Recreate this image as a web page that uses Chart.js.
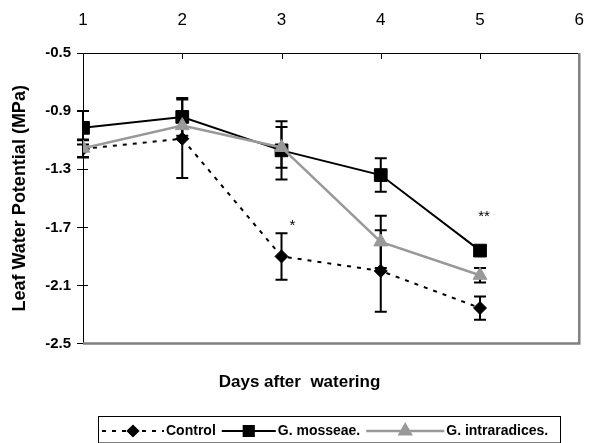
<!DOCTYPE html>
<html>
<head>
<meta charset="utf-8">
<script src="https://cdn.jsdelivr.net/npm/chart.js@4"></script>
<style>
  html, body { margin: 0; padding: 0; background: #fff; }
  #wrap { width: 606px; height: 443px; }
</style>
</head>
<body>
<div id="wrap"><canvas id="lwp"></canvas></div>
<script>
// values
const days = [1, 2, 3, 4, 5];
const xTicks = [1, 2, 3, 4, 5, 6];
const yTicks = [-2.5, -2.1, -1.7, -1.3, -0.9, -0.5];

const control     = [-1.16, -1.09, -1.90, -2.00, -2.255];
const controlErr  = [0.06, 0.27, 0.16, 0.28, 0.08];
const mosseae     = [-1.015, -0.94, -1.17, -1.34, -1.86];
const mosseaeErr  = [0.115, 0.13, 0.20, 0.115, 0.03];
const intra       = [-1.155, -1.00, -1.15, -1.80, -2.03];
const intraErr    = [0.06, 0.09, 0.14, 0.18, 0.05];

const seriesNames = ['Control', 'G. mosseae.', 'G. intraradices.'];
const errors = [controlErr, mosseaeErr, intraErr];
// significance marks: day, value, text
const sigDays = [3.11, 5.04];
const sigVals = [-1.69, -1.63];
const sigText = ['*', '**'];

const FONT = "'Liberation Sans', Arial, sans-serif";
const GRAY = '#999999';

const pts = arr => arr.map((v, i) => ({ x: days[i], y: v }));

const extras = {
  id: 'extras',
  beforeDatasetsDraw(chart) {
    const { ctx, scales: { x, y } } = chart;
    ctx.save();
    ctx.strokeStyle = '#000';
    ctx.lineWidth = 2;
    chart.data.datasets.forEach((ds, d) => {
      ds.data.forEach((p, i) => {
        const e = errors[d][i];
        const px = x.getPixelForValue(p.x);
        const t = y.getPixelForValue(p.y + e), b = y.getPixelForValue(p.y - e);
        ctx.beginPath();
        ctx.moveTo(px, t); ctx.lineTo(px, b);
        ctx.moveTo(px - 6, t); ctx.lineTo(px + 6, t);
        ctx.moveTo(px - 6, b); ctx.lineTo(px + 6, b);
        ctx.stroke();
      });
    });
    ctx.restore();
  },
  afterDraw(chart) {
    const { ctx, chartArea: a, scales: { x, y } } = chart;
    ctx.save();
    // gray plot-area frame on right / bottom
    ctx.strokeStyle = '#808080';
    ctx.lineWidth = 2.5;
    ctx.beginPath();
    ctx.moveTo(a.right, a.top); ctx.lineTo(a.right, a.bottom);
    ctx.lineTo(a.left, a.bottom);
    ctx.stroke();
    // inner tick marks
    ctx.strokeStyle = '#000';
    ctx.lineWidth = 1;
    ctx.beginPath();
    xTicks.slice(1, -1).forEach(v => {
      const px = Math.round(x.getPixelForValue(v)) + 0.5;
      ctx.moveTo(px, a.top); ctx.lineTo(px, a.top + 6);
    });
    yTicks.slice(1, -1).forEach(v => {
      const py = Math.round(y.getPixelForValue(v)) + 0.5;
      ctx.moveTo(a.left, py); ctx.lineTo(a.left + 5, py);
    });
    ctx.stroke();
    // significance asterisks
    ctx.fillStyle = '#000';
    ctx.font = '15px ' + FONT;
    ctx.textAlign = 'center';
    ctx.textBaseline = 'middle';
    sigText.forEach((s, i) => ctx.fillText(s, x.getPixelForValue(sigDays[i]), y.getPixelForValue(sigVals[i])));
    // legend box
    const bx = 98, by = 416, bw = 462, bh = 26.5;
    ctx.strokeStyle = '#000';
    ctx.lineWidth = 1;
    ctx.strokeRect(bx + 0.5, by + 0.5, bw, bh);
    const lens = [62, 54, 78];
    const ly = by + 15;
    ctx.font = 'bold 14px ' + FONT;
    ctx.textAlign = 'left';
    let cx = bx + 4;
    chart.data.datasets.forEach((ds, d) => {
      const x0 = cx, x1 = x0 + lens[d];
      ctx.strokeStyle = ds.borderColor;
      ctx.lineWidth = ds.borderWidth;
      ctx.setLineDash(ds.borderDash || []);
      ctx.beginPath(); ctx.moveTo(x0, ly); ctx.lineTo(x1, ly); ctx.stroke();
      ctx.setLineDash([]);
      ctx.fillStyle = ds.pointBackgroundColor;
      ctx.strokeStyle = ds.pointBorderColor;
      Chart.helpers.drawPoint(ctx, { pointStyle: ds.pointStyle, radius: ds.pointRadius * 0.8, rotation: 0, borderWidth: 1 }, (x0 + x1) / 2, ly);
      ctx.fillStyle = '#000';
      ctx.fillText(seriesNames[d], x1 + 2, ly);
      cx = x1 + 2 + ctx.measureText(seriesNames[d]).width + 6;
    });
    ctx.restore();
  }
};

new Chart(document.getElementById('lwp'), {
  type: 'line',
  data: {
    datasets: [
      {
        label: seriesNames[0], data: pts(control), order: 2,
        borderColor: '#000', borderWidth: 2, borderDash: [4, 6],
        pointStyle: 'rectRot', pointRadius: 6.5,
        pointBackgroundColor: '#000', pointBorderColor: '#000', pointBorderWidth: 1
      },
      {
        label: seriesNames[1], data: pts(mosseae), order: 1,
        borderColor: '#000', borderWidth: 2,
        pointStyle: 'rect', pointRadius: 9,
        pointBackgroundColor: '#000', pointBorderColor: '#000', pointBorderWidth: 1
      },
      {
        label: seriesNames[2], data: pts(intra), order: 0,
        borderColor: GRAY, borderWidth: 2.5,
        pointStyle: 'triangle', pointRadius: 8,
        pointBackgroundColor: GRAY, pointBorderColor: GRAY, pointBorderWidth: 1
      }
    ]
  },
  options: {
    responsive: true, maintainAspectRatio: false, animation: false,
    layout: { padding: { left: 0, top: 0, right: 7, bottom: 30 } },
    plugins: {
      legend: { display: false },
      tooltip: { enabled: false },
      title: {
        display: true, position: 'bottom', text: 'Days after  watering', color: '#000',
        font: { family: FONT, size: 17, weight: 'bold' },
        padding: { top: 29, bottom: 20 }
      }
    },
    scales: {
      x: {
        type: 'linear', position: 'top', min: 1, max: 6,
        afterBuildTicks: s => { s.ticks = xTicks.map(v => ({ value: v })); },
        afterFit: s => { s.height = 53; },
        grid: { drawOnChartArea: false, drawTicks: false },
        border: { display: true, color: '#000', width: 1 },
        ticks: { color: '#000', padding: 22, font: { family: FONT, size: 17 } }
      },
      y: {
        min: -2.5, max: -0.5,
        afterBuildTicks: s => { s.ticks = yTicks.map(v => ({ value: v })); },
        afterFit: s => { s.width = 83; },
        grid: { drawOnChartArea: false, tickLength: 6, color: '#000' },
        border: { display: true, color: '#000', width: 1 },
        ticks: {
          color: '#000', padding: 6, font: { family: FONT, size: 15, weight: 'bold' },
          callback: v => v.toFixed(1)
        },
        title: {
          display: true, text: 'Leaf Water Potential (MPa)', color: '#000',
          font: { family: FONT, size: 18, weight: 'bold' },
          padding: { top: 9, bottom: 0 }
        }
      }
    }
  },
  plugins: [extras]
});
</script>
</body>
</html>
